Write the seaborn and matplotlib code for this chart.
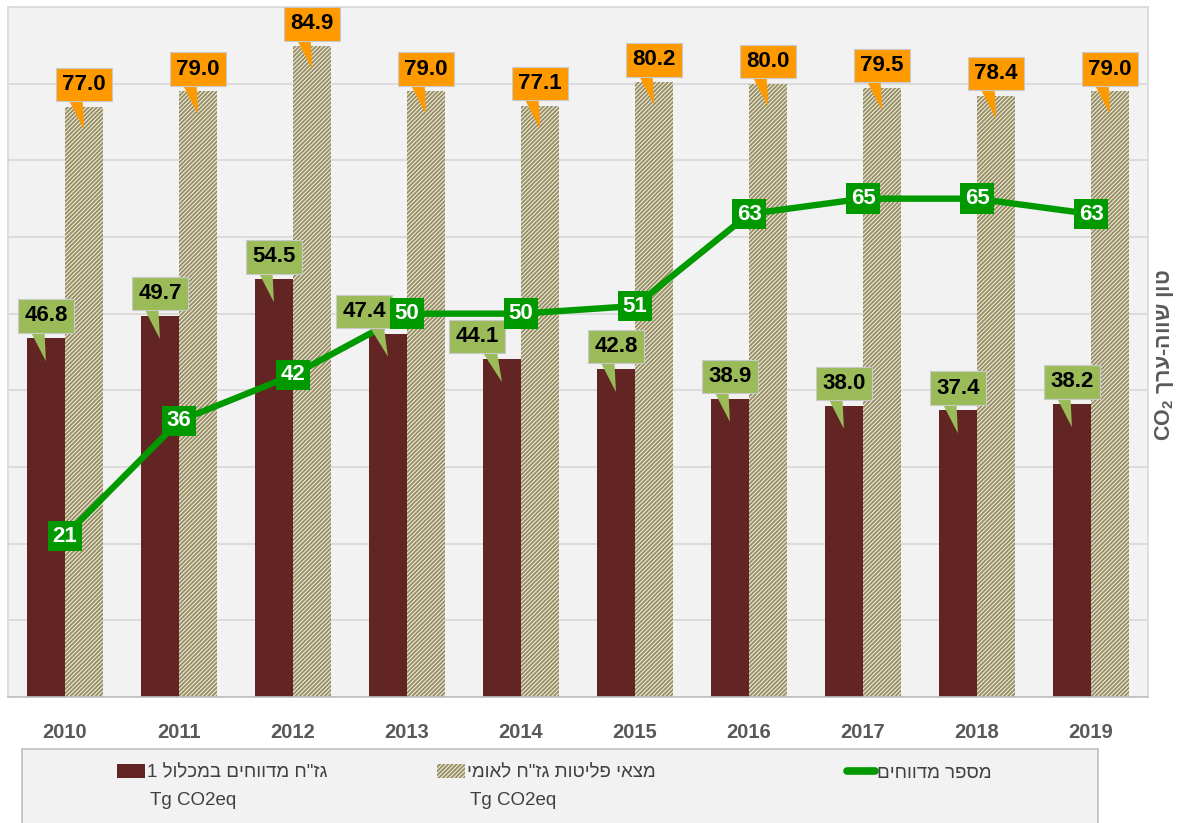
import numpy as np
import pandas as pd
import matplotlib
matplotlib.use("Agg")
import matplotlib.pyplot as plt
import seaborn as sns
from matplotlib.patches import Patch, Rectangle
from matplotlib.lines import Line2D

# Data
years = ["2010", "2011", "2012", "2013", "2014", "2015", "2016", "2017", "2018", "2019"]
reported_ghg = [46.8, 49.7, 54.5, 47.4, 44.1, 42.8, 38.9, 38.0, 37.4, 38.2]
national_inventory = [77.0, 79.0, 84.9, 79.0, 77.1, 80.2, 80.0, 79.5, 78.4, 79.0]
num_reporters = [21, 36, 42, 50, 50, 51, 63, 65, 65, 63]

# Hebrew labels (stored in visual left-to-right order, matplotlib has no bidi)
lbl_reported = "1 " + "גז\"ח מדווחים במכלול"[::-1]
lbl_inventory = "מצאי פליטות גז\"ח לאומי"[::-1]
lbl_reporters = "מספר מדווחים"[::-1]
unit_text = "Tg CO2eq"
ylabel_text = r"CO$_2$ " + "טון שווה-ערך"[::-1]

MAROON = "#632523"
HATCH_EDGE = "#958c62"
HATCH_FACE = "#eeebdc"
ORANGE = "#ff9900"
LIGHT_GREEN = "#9bbb59"
LINE_GREEN = "#009900"
GRID = "#d9d9d9"
TEXT_GRAY = "#595959"

sns.set_style("white")
plt.rcParams["font.family"] = ["Liberation Sans", "DejaVu Sans"]
plt.rcParams["mathtext.default"] = "regular"
plt.rcParams["hatch.linewidth"] = 1.3

df = pd.DataFrame({
    "year": years * 2,
    "value": reported_ghg + national_inventory,
    "series": ["reported"] * len(years) + ["inventory"] * len(years),
})

fig = plt.figure(figsize=(11.84, 8.23), dpi=100)
fig.patch.set_facecolor("white")
ax = fig.add_axes([8 / 1184, 1 - 697 / 823, 1140 / 1184, 690 / 823])
ax.set_facecolor("#f2f2f2")

sns.barplot(data=df, x="year", y="value", hue="series", order=years,
            hue_order=["reported", "inventory"],
            palette={"reported": MAROON, "inventory": HATCH_FACE},
            width=0.67, gap=0, ax=ax, legend=False, saturation=1,
            linewidth=0, zorder=2)

for bar in ax.containers[1]:
    bar.set_hatch("////////")
    bar.set_edgecolor(HATCH_EDGE)
    bar.set_linewidth(0)

xs = np.arange(len(years))
sns.lineplot(x=xs, y=num_reporters, ax=ax, color=LINE_GREEN, linewidth=4.6,
             zorder=4, legend=False)

ax.set_xlim(-0.5, len(years) - 0.5)
ax.set_ylim(0, 90)
ax.set_yticks(range(0, 91, 10))
ax.set_yticklabels([])
ax.tick_params(axis="y", length=0)
ax.yaxis.grid(True, color=GRID, linewidth=1.3)
ax.set_axisbelow(True)
ax.set_xlabel("")
ax.set_ylabel("")

ax.set_xticks(xs)
ax.set_xticklabels(years, fontsize=14.5, fontweight="bold", color=TEXT_GRAY)
ax.tick_params(axis="x", which="major", length=0, pad=19)
ax.set_xticks(np.arange(-0.5, len(years), 1.0), minor=True)
ax.tick_params(axis="x", which="minor", length=8, color="#bfbfbf", width=1)

for side in ["left", "top", "right"]:
    ax.spines[side].set_color(GRID)
    ax.spines[side].set_linewidth(1.2)
ax.spines["bottom"].set_color("#bfbfbf")
ax.spines["bottom"].set_linewidth(1.2)

# callout labels on bars
off = 0.1675
shifted = {3: -0.21, 4: -0.22}   # reported-series callouts nudged left


def callout(x, v, color, dx=0.0):
    relx = 0.76 if dx else 0.28
    ax.annotate(f"{v:.1f}", xy=(x, v - 3.0), xytext=(x + dx, v + 2.9),
                textcoords="data", ha="center", va="center",
                fontsize=16, fontweight="bold", color="black",
                bbox=dict(boxstyle="square,pad=0.28", fc=color,
                          ec="#c9c9c9", lw=0.8),
                arrowprops=dict(arrowstyle="wedge,tail_width=0.72",
                                fc=color, ec="none", relpos=(relx, 0.04),
                                patchA=None, shrinkA=0, shrinkB=0),
                annotation_clip=False, zorder=5)


for i, v in enumerate(reported_ghg):
    callout(i - off, v, LIGHT_GREEN, shifted.get(i, 0.0))
for i, v in enumerate(national_inventory):
    callout(i + off, v, ORANGE)

for i, v in enumerate(num_reporters):
    ax.text(i, v, f"{v}", ha="center", va="center", fontsize=16,
            fontweight="bold", color="white", zorder=6,
            bbox=dict(boxstyle="square,pad=0.22", fc=LINE_GREEN, ec="none"))

fig.text(1165 / 1184, 1 - 355 / 823, ylabel_text, rotation=90,
         ha="center", va="center", fontsize=15.5, fontweight="bold",
         color=TEXT_GRAY)

# legend box
fig.patches.append(Rectangle((22 / 1184, -0.01), 1076 / 1184, (823 - 749) / 823 + 0.01,
                             transform=fig.transFigure, fc="#f2f2f2",
                             ec="#bfbfbf", lw=1.2, zorder=0))

entries = [
    (Patch(facecolor=MAROON, edgecolor="none"), lbl_reported, 117, True),
    (Patch(facecolor=HATCH_FACE, edgecolor=HATCH_EDGE, hatch="////////", linewidth=0),
     lbl_inventory, 437, True),
    (Line2D([0], [0], color=LINE_GREEN, linewidth=5.5, solid_capstyle="round"),
     lbl_reporters, 847, False),
]
legends = []
for handle, label, xpix, with_unit in entries:
    lg = fig.legend([handle], [label], loc="center left",
                    bbox_to_anchor=(xpix / 1184, 1 - 773 / 823),
                    frameon=False, fontsize=13.5, handlelength=1.5,
                    handletextpad=0.12, borderpad=0, borderaxespad=0,
                    labelcolor="#404040")
    legends.append((lg, with_unit))

fig.canvas.draw()
renderer = fig.canvas.get_renderer()
inv = fig.transFigure.inverted()
for lg, with_unit in legends:
    if not with_unit:
        continue
    bb = lg.get_texts()[0].get_window_extent(renderer)
    x0, y0 = inv.transform((bb.x0, bb.y0))
    fig.text(x0 + 3 / 1184, y0 - 10 / 823, unit_text, ha="left", va="top",
             fontsize=13.5, color="#404040")

fig.savefig("out.png", dpi=100, facecolor="white")
